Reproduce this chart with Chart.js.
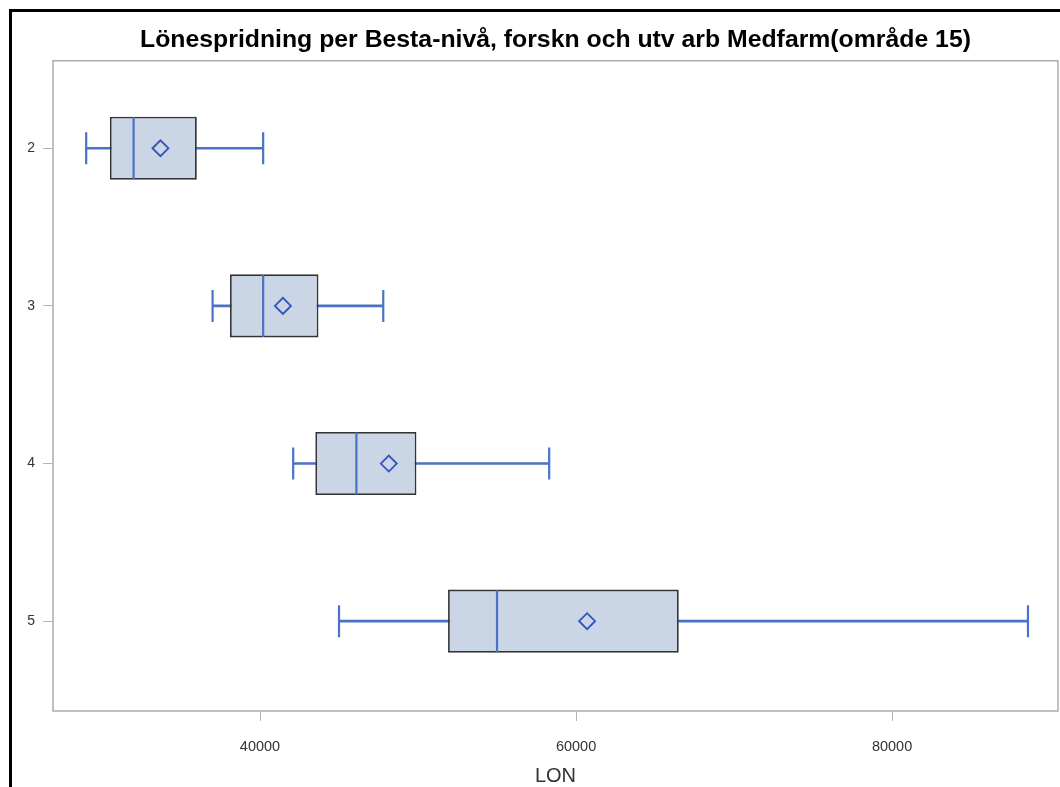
<!DOCTYPE html>
<html>
<head>
<meta charset="utf-8">
<script src="https://cdn.jsdelivr.net/npm/chart.js@4"></script>
<style>
html, body { margin: 0; padding: 0; background: #fff; overflow: hidden; }
#wrap { position: relative; width: 1060px; height: 787px; overflow: hidden; }
#frame { position: absolute; left: 9px; top: 9px; width: 1100px; height: 820px; border-left: 3px solid #000; border-top: 3px solid #000; }
#chart { position: absolute; left: 0; top: 0; }
</style>
</head>
<body>
<div id="wrap">
  <div id="frame"></div>
  <canvas id="chart" width="1060" height="787"></canvas>
</div>
<script>
// Besta levels and salary (LON) summary statistics
var levels = [2, 3, 4, 5];
var lonMin = [29000, 37000, 42100, 45000];
var lonQ1 = [30500, 38100, 43500, 51900];
var lonMedian = [32000, 40200, 46100, 55000];
var lonMean = [33700, 41450, 48150, 60700];
var lonQ3 = [36000, 43700, 49900, 66500];
var lonMax = [40200, 47800, 58300, 88600];
var xTicks = [40000, 60000, 80000];

var blue = '#4a72c6';
var darkBlue = '#2f55b9';

var whiskerData = [];
var boxData = [];
var capData = [];
var medianData = [];
var meanData = [];
for (var i = 0; i < levels.length; i++) {
  whiskerData.push({ x: [lonMin[i], lonMax[i]], y: levels[i] });
  boxData.push({ x: [lonQ1[i], lonQ3[i]], y: levels[i] });
  capData.push({ x: lonMin[i], y: levels[i] });
  capData.push({ x: lonMax[i], y: levels[i] });
  medianData.push({ x: lonMedian[i], y: levels[i] });
  meanData.push({ x: lonMean[i], y: levels[i] });
}

// grey frame round the plot area
var framePlugin = {
  id: 'plotFrame',
  afterDraw: function (chart) {
    var a = chart.chartArea;
    var ctx = chart.ctx;
    ctx.save();
    ctx.strokeStyle = '#a9acb0';
    ctx.lineWidth = 1.5;
    ctx.strokeRect(a.left, a.top, a.right - a.left, a.bottom - a.top);
    ctx.restore();
  }
};

var ctx = document.getElementById('chart').getContext('2d');
new Chart(ctx, {
  type: 'bar',
  data: {
    datasets: [
      {
        type: 'scatter',
        data: meanData,
        pointStyle: 'rectRot',
        radius: 8,
        borderColor: darkBlue,
        backgroundColor: 'rgba(0,0,0,0)',
        borderWidth: 1.8,
        order: 1
      },
      {
        type: 'scatter',
        data: medianData,
        pointStyle: 'line',
        rotation: 90,
        radius: 31,
        borderColor: blue,
        borderWidth: 2.2,
        order: 2
      },
      {
        type: 'scatter',
        data: capData,
        pointStyle: 'line',
        rotation: 90,
        radius: 16,
        borderColor: blue,
        borderWidth: 2.2,
        order: 2
      },
      {
        data: boxData,
        backgroundColor: '#cad5e5',
        borderColor: '#333',
        borderWidth: 1.8,
        borderSkipped: false,
        barPercentage: 0.4,
        categoryPercentage: 1,
        grouped: false,
        order: 3
      },
      {
        data: whiskerData,
        backgroundColor: blue,
        barThickness: 2,
        grouped: false,
        order: 4
      }
    ]
  },
  plugins: [framePlugin],
  options: {
    indexAxis: 'y',
    responsive: false,
    animation: false,
    layout: { autoPadding: false, padding: { left: 0, right: 2, top: 0, bottom: 0 } },
    plugins: {
      legend: { display: false },
      tooltip: { enabled: false },
      title: {
        display: true,
        fullSize: false,
        text: 'Lönespridning per Besta-nivå, forskn och utv arb Medfarm(område 15)',
        color: '#000',
        font: { family: 'Liberation Sans', size: 24.8, weight: 'bold' },
        padding: { top: 25, bottom: 6 }
      }
    },
    scales: {
      x: {
        type: 'linear',
        position: 'bottom',
        min: 26900,
        max: 90500,
        afterBuildTicks: function (scale) {
          scale.ticks = xTicks.map(function (v) { return { value: v }; });
        },
        afterFit: function (scale) { scale.height = 76; },
        grid: { drawOnChartArea: false, drawTicks: true, tickLength: 10, color: '#b5b5b5' },
        border: { display: false },
        ticks: {
          padding: 17,
          color: '#333',
          font: { family: 'Liberation Sans', size: 14.5 },
          callback: function (v) { return String(v); }
        },
        title: {
          display: true,
          text: 'LON',
          color: '#333',
          font: { family: 'Liberation Sans', size: 20, lineHeight: 1 },
          padding: { top: 0, bottom: 1 }
        }
      },
      y: {
        type: 'linear',
        reverse: true,
        offset: false,
        min: 1.445,
        max: 5.57,
        afterBuildTicks: function (scale) {
          scale.ticks = levels.map(function (v) { return { value: v }; });
        },
        afterFit: function (scale) { scale.width = 53; },
        grid: { offset: false, drawOnChartArea: false, drawTicks: true, tickLength: 10, color: '#b5b5b5' },
        border: { display: false },
        ticks: {
          padding: 8,
          color: '#333',
          font: { family: 'Liberation Sans', size: 14 },
          callback: function (v) { return String(v); }
        }
      }
    }
  }
});
</script>
</body>
</html>
